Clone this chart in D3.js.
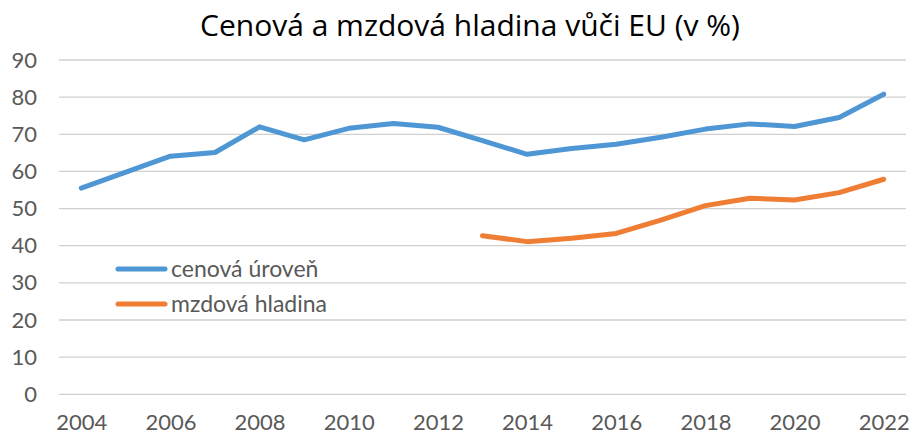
<!DOCTYPE html>
<html><head><meta charset="utf-8">
<script src="https://cdn.jsdelivr.net/npm/d3@7"></script>
<style>body{margin:0;background:#fff}</style>
</head><body>
<svg id="c" width="911" height="434"></svg>
<script>
const years = d3.range(2004, 2023).map(String);
const cenova = [55.5, 59.8, 64.1, 65.1, 72.0, 68.5, 71.6, 72.9, 71.9, 68.3, 64.6, 66.2, 67.3, 69.2, 71.4, 72.8, 72.1, 74.5, 80.8];
const mzdova = [null, null, null, null, null, null, null, null, null, 42.7, 41.1, 42.0, 43.3, 46.9, 50.8, 52.8, 52.3, 54.3, 57.9];
const yTicks = [0, 10, 20, 30, 40, 50, 60, 70, 80, 90];
const xTickLabels = ["2004","2006","2008","2010","2012","2014","2016","2018","2020","2022"];
const seriesNames = ["cenová úroveň", "mzdová hladina"];
const colors = ["#4f97d4", "#ef7d33"];
const title = "Cenová a mzdová hladina vůči EU (v %)";

const svg = d3.select("#c");
const mLeft = 59, mRight = 906, mTop = 60, mBottom = 394.3;
const x = d3.scalePoint().domain(years).range([mLeft, mRight]).padding(0.5);
const y = d3.scaleLinear().domain([0, 90]).range([mBottom, mTop]);

// gridlines
svg.append("g").selectAll("line").data(yTicks).join("line")
  .attr("x1", mLeft).attr("x2", mRight)
  .attr("y1", d => y(d)).attr("y2", d => y(d))
  .attr("stroke", "#d0d0d0").attr("stroke-width", 1.3);

// y axis labels
const yAxis = d3.axisLeft(y).tickValues(yTicks).tickSize(0).tickPadding(0);
const gy = svg.append("g").attr("transform", "translate(37,0)").call(yAxis);
gy.select(".domain").remove();
gy.selectAll("text").attr("font-family", "Lato, sans-serif").attr("font-size", 22).attr("fill", "#595959");

// x axis labels
const xAxis = d3.axisBottom(x).tickValues(xTickLabels).tickSize(0).tickPadding(0);
const gx = svg.append("g").attr("transform", "translate(0,0)").call(xAxis);
gx.select(".domain").remove();
gx.selectAll("text").attr("font-family", "Lato, sans-serif").attr("font-size", 22).attr("fill", "#595959").attr("y", 429.5).attr("dy", 0);

const line = d3.line().defined(d => d.v != null).x(d => x(d.k)).y(d => y(d.v));
[cenova, mzdova].forEach((s, i) => {
  svg.append("path")
    .datum(years.map((k, j) => ({k, v: s[j]})))
    .attr("d", line).attr("fill", "none")
    .attr("stroke", colors[i]).attr("stroke-width", 5)
    .attr("stroke-linecap", "round").attr("stroke-linejoin", "round");
});

// legend
const lg = svg.append("g");
seriesNames.forEach((n, i) => {
  const ly = 269 + i * 35;
  lg.append("line").attr("x1", 118).attr("x2", 165).attr("y1", ly).attr("y2", ly)
    .attr("stroke", colors[i]).attr("stroke-width", 5).attr("stroke-linecap", "round");
  lg.append("text").attr("x", 171).attr("y", ly).attr("dy", "0.35em")
    .attr("font-family", "Lato, sans-serif").attr("font-size", 23).attr("fill", "#595959").text(n);
});

svg.append("text").attr("x", 470).attr("y", 36).attr("text-anchor", "middle")
  .attr("font-family", "'Open Sans', sans-serif").attr("font-size", 30).attr("fill", "#000").text(title);
</script>
</body></html>
